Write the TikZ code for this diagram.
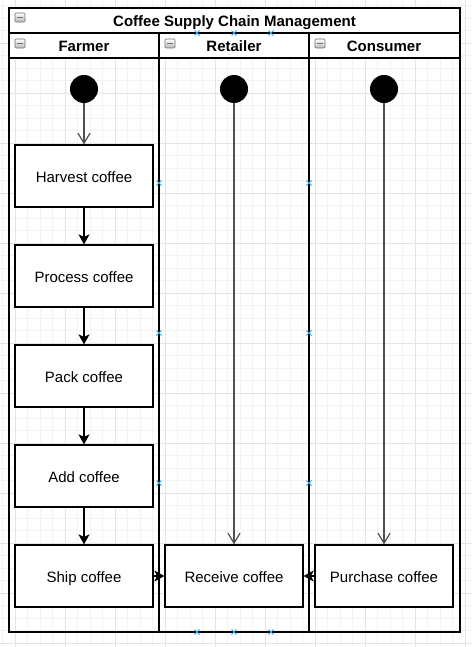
\documentclass[tikz,border=0pt]{standalone}
\usepackage{fontspec}
\setmainfont{Liberation Sans}
\usetikzlibrary{arrows.meta}
\definecolor{gridmin}{HTML}{F3F3F3}
\definecolor{gridmaj}{HTML}{E4E4E4}
\definecolor{handle}{HTML}{29A8E8}
\definecolor{icongray}{HTML}{B8B8B8}
\definecolor{iconedge}{HTML}{6E6E6E}
\definecolor{arrgray}{HTML}{505050}
\begin{document}
\begin{tikzpicture}[x=1pt,y=-1pt,
  txt/.style={font=\fontsize{15}{18}\selectfont,text height=12.8pt,text depth=0pt},
  hdr/.style={font=\bfseries\fontsize{15}{18}\selectfont,text height=10.8pt,text depth=0pt,inner sep=0pt},
  actbox/.style={draw=black,line width=1.2pt,fill=white,minimum width=138pt,minimum height=62pt,inner sep=0pt,txt},
  startdot/.style={circle,fill=black,minimum size=28pt,inner sep=0pt},
  openarr/.style={draw=arrgray,line width=1.3pt,-{Straight Barb[length=10pt,width=12pt,line width=1.2pt]}},
  filledarr/.style={draw=black,line width=1.3pt,-{Stealth[length=10pt,width=11pt,inset=2.5pt]}},
  poolline/.style={draw=black,line width=1.5pt},
  minusicon/.style={draw=iconedge,line width=0.6pt,top color=white,bottom color=icongray,rounded corners=1pt},
  handlemark/.style={draw=handle,line width=1pt}
]
\useasboundingbox (0,0) rectangle (472,647);
\fill[white] (0,0) rectangle (472,647);
% grid
\foreach \i in {0,...,37} {\pgfmathsetmacro\xx{2.5+12.5*\i}\draw[gridmin,line width=0.6pt] (\xx,0) -- (\xx,647);}
\foreach \i in {0,...,51} {\pgfmathsetmacro\yy{5.5+12.5*\i}\draw[gridmin,line width=0.6pt] (0,\yy) -- (472,\yy);}
\foreach \xx in {15,65,...,465} {\draw[gridmaj,line width=0.7pt] (\xx,0) -- (\xx,647);}
\foreach \yy in {43,93,...,643} {\draw[gridmaj,line width=0.7pt] (0,\yy) -- (472,\yy);}
% pool header rows
\fill[white] (9,8) rectangle (460,58);
\draw[poolline] (9,8) rectangle (460,632);
\draw[poolline] (9,33) -- (460,33);
\draw[poolline] (9,58) -- (460,58);
\draw[poolline] (159,33) -- (159,632);
\draw[poolline] (309,33) -- (309,632);
% headers
\node[hdr] (title) at (234.5,21.3) {Coffee Supply Chain Management};
\node[hdr] (farmer) at (84,46.5) {Farmer};
\node[hdr] (retailer) at (234,46.5) {Retailer};
\node[hdr] (consumer) at (384,46.5) {Consumer};
% icons
\foreach \cx/\cy in {20/17.5,20/43.5,170/43.5,320/43.5} {
  \draw[minusicon] (\cx-5,\cy-4.5) rectangle (\cx+5,\cy+4.5);
  \draw[iconedge,line width=1.2pt] (\cx-3,\cy) -- (\cx+3,\cy);
}
% start dots
\node[startdot] (fs) at (84,89) {};
\node[startdot] (rs) at (234,89) {};
\node[startdot] (cs) at (384,89) {};
% activities
\node[actbox] (harvest) at (84,176) {Harvest coffee};
\node[actbox] (process) at (84,276) {Process coffee};
\node[actbox] (pack) at (84,376) {Pack coffee};
\node[actbox] (add) at (84,476) {Add coffee};
\node[actbox] (ship) at (84,576) {Ship coffee};
\node[actbox] (receive) at (234,576) {Receive coffee};
\node[actbox] (purchase) at (384,576) {Purchase coffee};
% connectors
\draw[openarr] (fs) -- (harvest);
\draw[openarr] (rs) -- (receive);
\draw[openarr] (cs) -- (purchase);
\draw[filledarr] (harvest) -- (process);
\draw[filledarr] (process) -- (pack);
\draw[filledarr] (pack) -- (add);
\draw[filledarr] (add) -- (ship);
\draw[filledarr] (ship) -- (receive);
\draw[filledarr] (purchase) -- (receive);
% selection handles
\foreach \hx/\hy in {197/33,234/33,271/33,197/632,234/632,271/632,159/183,159/333,159/483,309/183,309/333,309/483} {
  \draw[handlemark] (\hx-2.5,\hy-2.5) -- (\hx+2.5,\hy+2.5) (\hx-2.5,\hy+2.5) -- (\hx+2.5,\hy-2.5);
}
\end{tikzpicture}
\end{document}
